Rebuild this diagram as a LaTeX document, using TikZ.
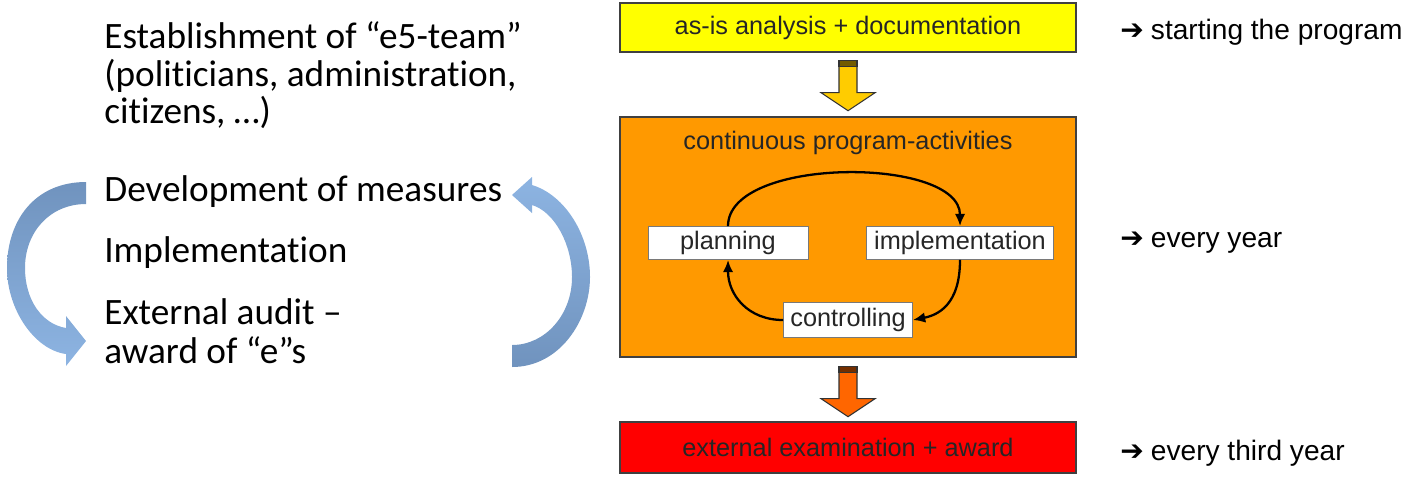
\documentclass[tikz,border=0pt]{standalone}
\usepackage{fontspec}
\setmainfont{Liberation Sans}
\newfontfamily\leftfont[Ligatures={NoCommon,TeX}]{Carlito}
\newfontfamily\symfont{DejaVu Sans}
\usetikzlibrary{arrows.meta,calc}
\definecolor{asisY}{HTML}{FFFF00}
\definecolor{contO}{HTML}{FF9900}
\definecolor{examR}{HTML}{FF0000}
\definecolor{frame}{HTML}{404040}
\definecolor{arrY}{HTML}{FFCC00}
\definecolor{arrO}{HTML}{FF6600}
\definecolor{loopDark}{HTML}{7093BE}
\definecolor{loopLight}{HTML}{8DB4E2}

\begin{document}
\begin{tikzpicture}[x=0.02cm,y=0.02cm,>=Latex,
  stage/.style={draw=frame,line width=0.8pt,minimum width=9.12cm,inner sep=0pt,
                font=\fontsize{14.4}{17}\selectfont,text=black!85},
  phase/.style={draw=frame!70,fill=white,line width=0.5pt,minimum height=0.66cm,
                inner sep=0pt,font=\fontsize{14.4}{17}\selectfont,text=black!85},
  note/.style={anchor=base west,inner sep=0pt,font=\leftfont\fontsize{21.2}{23}\selectfont},
  freq/.style={anchor=west,inner sep=0pt,font=\fontsize{16}{19}\selectfont},
  loop/.style={line width=1.3pt,-{Latex[length=7pt,width=6pt]}},
  blk/.style={draw=black!80,line width=0.6pt}]

\useasboundingbox (0,0) rectangle (1425,-478);

% program stages
\node[stage,fill=asisY,minimum height=0.98cm] (asis) at (848,-27.5) {as-is analysis + documentation};
\node[stage,fill=contO,minimum height=4.8cm] (cont) at (848,-237) {};
\node[stage,fill=examR,minimum height=1.02cm] (exam) at (848,-447.5) {external examination + award};
\node[font=\fontsize{14.4}{17}\selectfont,text=black!85] (title) at (848,-143) {continuous program-activities};

% yearly cycle
\node[phase,minimum width=3.2cm] (plan) at (728,-243) {planning};
\node[phase,minimum width=3.74cm] (impl) at (960,-243) {implementation};
\node[phase,minimum width=2.58cm,minimum height=0.7cm] (ctrl) at (848,-320) {controlling};

\draw[loop] (plan.north) .. controls +(0,70) and +(0,70) .. (impl.north);
\draw[loop] (impl.south) .. controls +(0,-45) and +(25,5) .. (ctrl.east);
\draw[loop] (ctrl.west) .. controls +(-35,0) and +(0,-35) .. (plan.south);

% block arrows between stages
\coordinate (a1) at ($(asis.south)+(0,-8)$);
\draw[blk,fill=arrY] (a1) ++(-9,0) -- ++(0,-32) -- ++(-18,0) -- ++(27,-18) -- ++(27,18) -- ++(-18,0) -- ++(0,32) -- cycle;
\draw[blk,fill=arrY!45!black] (a1) ++(-9,0) rectangle ++(18,-6);
\coordinate (a2) at ($(cont.south)+(0,-9)$);
\draw[blk,fill=arrO] (a2) ++(-9,0) -- ++(0,-32) -- ++(-18,0) -- ++(27,-18) -- ++(27,18) -- ++(-18,0) -- ++(0,32) -- cycle;
\draw[blk,fill=arrO!45!black] (a2) ++(-9,0) rectangle ++(18,-6);

% how often
\node[freq] (fstart) at (1120,-32) {{\symfont ➔}\hspace{4pt}starting the program};
\node[freq] (fyear) at (1120,-243) {{\symfont ➔}\hspace{4pt}every year};
\node[freq] (fthird) at (1120,-453) {{\symfont ➔}\hspace{4pt}every third year};

% left notes
\node[note] (n1) at (104,-48) {Establishment of “e5-team”};
\node[note] (n2) at (104,-86) {(politicians, administration,};
\node[note] (n3) at (104,-123) {citizens, …)};
\node[note] (n4) at (104,-201) {Development of measures};
\node[note] (n5) at (104,-262) {Implementation};
\node[note] (n6) at (104,-324) {External audit –};
\node[note] (n7) at (104,-363) {award of “e”s};

% curved arrows round the notes
\shade[top color=loopDark,bottom color=loopLight]
  (86,-182) .. controls (35,-182) and (7,-220) .. (7,-268)
  .. controls (7,-310) and (35,-350) .. (66,-354) -- (66,-366) -- (86,-341) -- (66,-316) -- (66,-328)
  .. controls (42,-324) and (25,-300) .. (25,-268)
  .. controls (25,-232) and (50,-204) .. (86,-204) -- cycle;
\shade[top color=loopLight,bottom color=loopDark]
  (512,-367) .. controls (560,-367) and (590,-320) .. (590,-277)
  .. controls (590,-235) and (565,-195) .. (532,-185) -- (532,-177) -- (512,-195) -- (532,-213) -- (532,-205)
  .. controls (555,-212) and (572,-245) .. (572,-277)
  .. controls (572,-315) and (545,-345) .. (512,-345) -- cycle;
\end{tikzpicture}
\end{document}
